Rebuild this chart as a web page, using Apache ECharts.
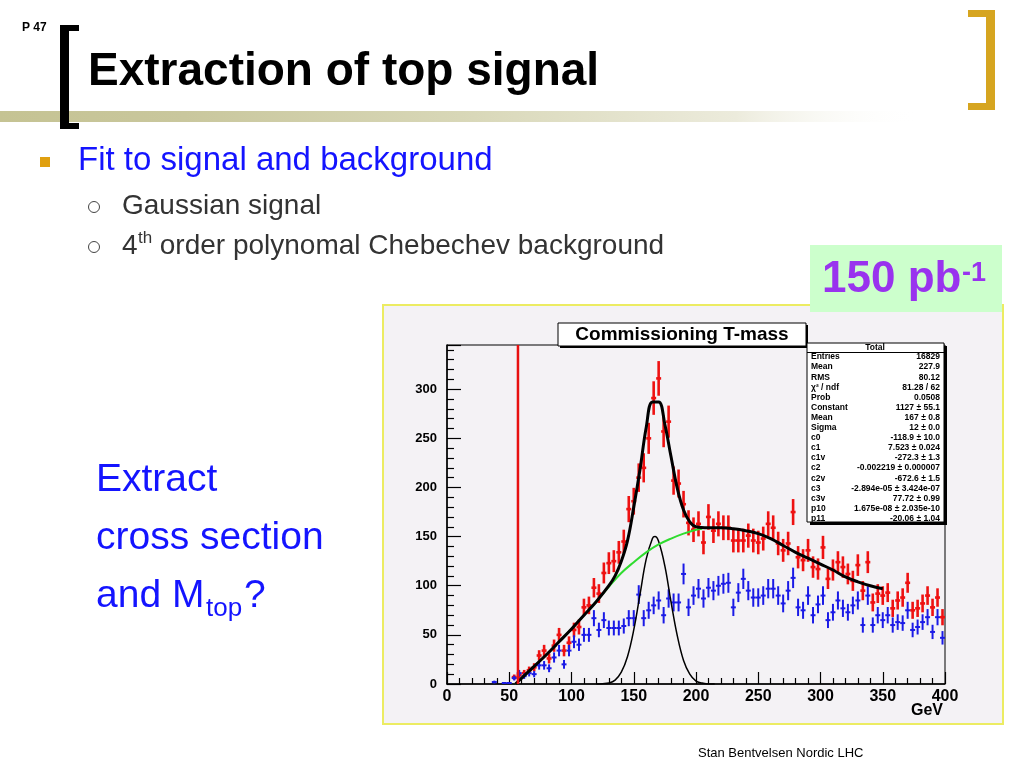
<!DOCTYPE html>
<html><head><meta charset="utf-8">
<script src="https://cdn.jsdelivr.net/npm/echarts@6/dist/echarts.min.js"></script>
<style>html,body{margin:0;padding:0;background:#fff;} #c{width:1024px;height:768px;}</style>
</head><body><div id="c"></div>
<script>
// ---- data ----
const binCenters = [38,42,46,50,54,58,62,66,70,74,78,82,86,90,94,98,102,106,110,114,118,122,126,130,134,138,142,146,150,154,158,162,166,170,174,178,182,186,190,194,198,202,206,210,214,218,222,226,230,234,238,242,246,250,254,258,262,266,270,274,278,282,286,290,294,298,302,306,310,314,318,322,326,330,334,338,342,346,350,354,358,362,366,370,374,378,382,386,390,394,398];
const totalCounts = [null,null,null,null,7,9,11,14,17,29,34,26,39,50,34,42,55,58,78,80,98,92,113,123,125,134,145,178,186,210,220,250,291,311,257,267,207,204,183,164,157,163,144,170,156,163,159,159,146,146,146,151,146,144,148,163,159,143,136,143,175,129,126,136,119,117,139,107,116,124,119,112,105,121,95,124,83,92,90,93,77,85,88,103,75,77,82,90,78,88,68];
const backgroundCounts = [2,null,1,1,6,11,8,11,10,19,19,16,27,34,20,34,43,40,50,50,67,55,65,57,57,57,59,67,67,91,67,75,80,85,70,87,83,83,112,78,90,97,87,98,95,100,102,103,78,93,107,95,88,88,90,97,97,90,82,95,108,78,75,90,70,81,90,65,73,85,77,73,80,85,60,90,60,70,65,70,60,63,62,75,55,58,63,68,53,68,47];
const fitTotalX = [55,60,70,80,90,100,110,120,130,135,140,145,150,155,160,165,170,175,180,185,190,195,200,210,220,230,240,250,260,270,280,290,300,310,320,330,340,350];
const fitTotalY = [0,6,18,30,43,56,70,84,100,110,125,146,180,218,261,287,287,264,231,199,177,165,160,159,159,158,156,153,148,141,134,128,122,116,109,104,100,97];
const fitBgX = [55,60,70,80,90,100,110,120,130,140,150,160,170,180,190,200,205];
const fitBgY = [0,6,18,30,43,56,70,84,99,113,124,134,142,148,153,157,158];
const gausX = [120,125,130,135,140,145,150,155,160,165,167,170,175,180,185,190,195,200,205,210,215];
const gausY = [0,0.3,1,4,12,28,55,91,127,148,150,145,120,83,49,24,10,3,1,0,0];
const cutValue = 57;
const binHalfWidth = 2;
const xMin = 0, xMax = 400, xStep = 50;
const yMin = 0, yMax = 345, yStep = 50;
const statsLabels = ['Entries','Mean','RMS','\u03c7\u00b2 / ndf','Prob','Constant','Mean','Sigma','c0','c1','c1v','c2','c2v','c3','c3v','p10','p11'];
const statsValues = ['16829','227.9','80.12','81.28 / 62','0.0508','1127 \u00b1 55.1','167 \u00b1 0.8','12 \u00b1 0.0','-118.9 \u00b1 10.0','7.523 \u00b1 0.024','-272.3 \u00b1 1.3','-0.002219 \u00b1 0.000007','-672.6 \u00b1 1.5','-2.894e-05 \u00b1 3.424e-07','77.72 \u00b1 0.99','1.675e-08 \u00b1 2.035e-10','-20.06 \u00b1 1.04'];

// ---- helpers ----
const FF = 'Liberation Sans, Arial, sans-serif';
function txt(x, y, text, fs, color, weight, align, z) {
  return {type:'text', x:x, y:y, z: z || 50, silent:true,
    style:{text:text, fontSize:fs, fontFamily:FF, fontWeight:weight||'normal', fill:color,
      align:align||'left', verticalAlign:'middle', textAlign:align||'left', textVerticalAlign:'middle'}};
}
function rect(x, y, w, h, fill, z, stroke, lw) {
  return {type:'rect', z: z||10, silent:true, shape:{x:x,y:y,width:w,height:h},
    style:{fill:fill, stroke:stroke||null, lineWidth:lw||0}};
}

const g = [];
// slide decorations
g.push(rect(0,111,920,11,new echarts.graphic.LinearGradient(0,0,1,0,[
  {offset:0,color:'#c5c393'},{offset:0.2,color:'#c9c79d'},{offset:0.5,color:'#d8d7b7'},{offset:0.8,color:'#ecebdc'},{offset:1,color:'rgba(255,255,255,0)'}]),5));
g.push(rect(60,25,9,104,'#000',20));
g.push(rect(60,25,19,6,'#000',20));
g.push(rect(60,123,19,6,'#000',20));
g.push(rect(986,10,9,100,'#D6A520',20));
g.push(rect(968,10,27,7,'#D6A520',20));
g.push(rect(968,103,27,7,'#D6A520',20));
g.push(txt(22,28,'P 47',12,'#000','bold'));
g.push(txt(88,72,'Extraction of top signal',46,'#000','bold'));
g.push(rect(40,157,10,10,'#E0A010',20));
g.push(txt(78,161,'Fit to signal and background',33,'#1414ff'));
g.push({type:'circle', z:20, silent:true, shape:{cx:94,cy:207,r:5.5}, style:{fill:'none',stroke:'#444',lineWidth:1}});
g.push({type:'circle', z:20, silent:true, shape:{cx:94,cy:247,r:5.5}, style:{fill:'none',stroke:'#444',lineWidth:1}});
g.push(txt(122,206,'Gaussian signal',28,'#333'));
g.push(txt(122,246,'4',28,'#333'));
g.push(txt(138,238,'th',17,'#333'));
g.push(txt(152,246,' order polynomal Chebechev background',28,'#333'));
g.push(txt(96,480,'Extract',39,'#1414ff'));
g.push(txt(96,538,'cross section',39,'#1414ff'));
g.push(txt(96,596,'and M',39,'#1414ff'));
g.push(txt(206,609,'top',26,'#1414ff'));
g.push(txt(244,596,'?',39,'#1414ff'));
g.push(txt(698,753,'Stan Bentvelsen Nordic LHC',13,'#000'));
// chart panel
g.push(rect(383,305,620,419,'#f4f2f5',-100,'#ecec62',2));
g.push(rect(810,245,192,67,'#ccffcc',60));
g.push(txt(822,280,'150 pb',44,'#9933ee','bold','left',61));
g.push(txt(962,274,'-1',27,'#9933ee','bold','left',61));
// title pave
g.push(rect(560,325,248,23,'#000',70));
g.push(rect(558,323,248,23,'#fff',71,'#000',1));
g.push(txt(682,335,'Commissioning T-mass',19,'#000','bold','center',72));
// stats box
g.push(rect(810,346,137,179,'#000',70));
g.push(rect(807,343,137,179,'#fff',71,'#000',1));
g.push(txt(875,348,'Total',8.5,'#000','bold','center',72));
g.push({type:'line', z:72, silent:true, shape:{x1:807,y1:352.5,x2:944,y2:352.5}, style:{stroke:'#000',lineWidth:1}});
statsLabels.forEach(function(l,i){
  const y = 357 + i*10.1;
  g.push(txt(811,y,l,8.5,'#000','bold','left',72));
  g.push(txt(940,y,statsValues[i],8.5,'#000','bold','right',72));
});
g.push(txt(943,711,'GeV',16,'#000','bold','right',50));

// ---- series ----
function pts(vals) {
  const out = [];
  binCenters.forEach(function(x,i){ if (vals[i] != null) out.push([x, vals[i], Math.sqrt(vals[i])]); });
  return out;
}
function errRender(color, lw) {
  return function(params, api) {
    const x = api.value(0), y = api.value(1), e = api.value(2);
    const top = api.coord([x, y + e]);
    const bot = api.coord([x, Math.max(0, y - e)]);
    const l = api.coord([x - binHalfWidth, y]);
    const r = api.coord([x + binHalfWidth, y]);
    return {type:'group', children:[
      {type:'line', shape:{x1:top[0],y1:top[1],x2:bot[0],y2:bot[1]}, style:{stroke:color,lineWidth:lw}},
      {type:'line', shape:{x1:l[0],y1:l[1],x2:r[0],y2:r[1]}, style:{stroke:color,lineWidth:lw}}
    ]};
  };
}
function xy(xs, ys) { return xs.map(function(x,i){ return [x, ys[i]]; }); }

const axisFont = {color:'#000', fontWeight:'bold', fontFamily:FF};
const option = {
  animation:false,
  backgroundColor:'#fff',
  grid:{left:447, right:79, top:345, bottom:84, show:true, borderColor:'#000', borderWidth:1, backgroundColor:'transparent'},
  xAxis:{type:'value', min:xMin, max:xMax, interval:xStep,
    axisLine:{lineStyle:{color:'#000',width:1.5}},
    axisTick:{inside:true,length:12,lineStyle:{color:'#000',width:1.2}},
    minorTick:{show:true,splitNumber:5,length:6,lineStyle:{color:'#000',width:1.2}},
    splitLine:{show:false},
    axisLabel:Object.assign({fontSize:16, margin:5}, axisFont)},
  yAxis:{type:'value', min:yMin, max:yMax, interval:yStep,
    axisLine:{show:true,lineStyle:{color:'#000',width:1.5}},
    axisTick:{show:true,inside:true,length:14,lineStyle:{color:'#000',width:1.2}},
    minorTick:{show:true,splitNumber:5,length:7,lineStyle:{color:'#000',width:1.2}},
    splitLine:{show:false},
    axisLabel:Object.assign({fontSize:13, margin:10, showMaxLabel:false,
      formatter:function(v){ return v % yStep === 0 ? String(v) : ''; }}, axisFont)},
  graphic:{elements:g},
  series:[
    {type:'custom', z:2, renderItem:errRender('#ee1111',2.6), data:pts(totalCounts), encode:{x:0,y:1}, clip:true},
    {type:'custom', z:3, renderItem:errRender('#1a1ae6',2), data:pts(backgroundCounts), encode:{x:0,y:1}, clip:true},
    {type:'line', z:4, data:xy(gausX,gausY), smooth:0.4, symbol:'none', lineStyle:{color:'#000',width:1.5}},
    {type:'line', z:5, data:xy(fitBgX,fitBgY), smooth:0.4, symbol:'none', lineStyle:{color:'#2fdc2f',width:2}},
    {type:'line', z:6, data:xy(fitTotalX,fitTotalY), smooth:0.4, symbol:'none', lineStyle:{color:'#000',width:3}},
    {type:'line', z:7, data:[[cutValue,yMin],[cutValue,yMax]], symbol:'none', lineStyle:{color:'#e81010',width:2.5}}
  ]
};
const chart = echarts.init(document.getElementById('c'));
chart.setOption(option);
</script>
</body></html>
